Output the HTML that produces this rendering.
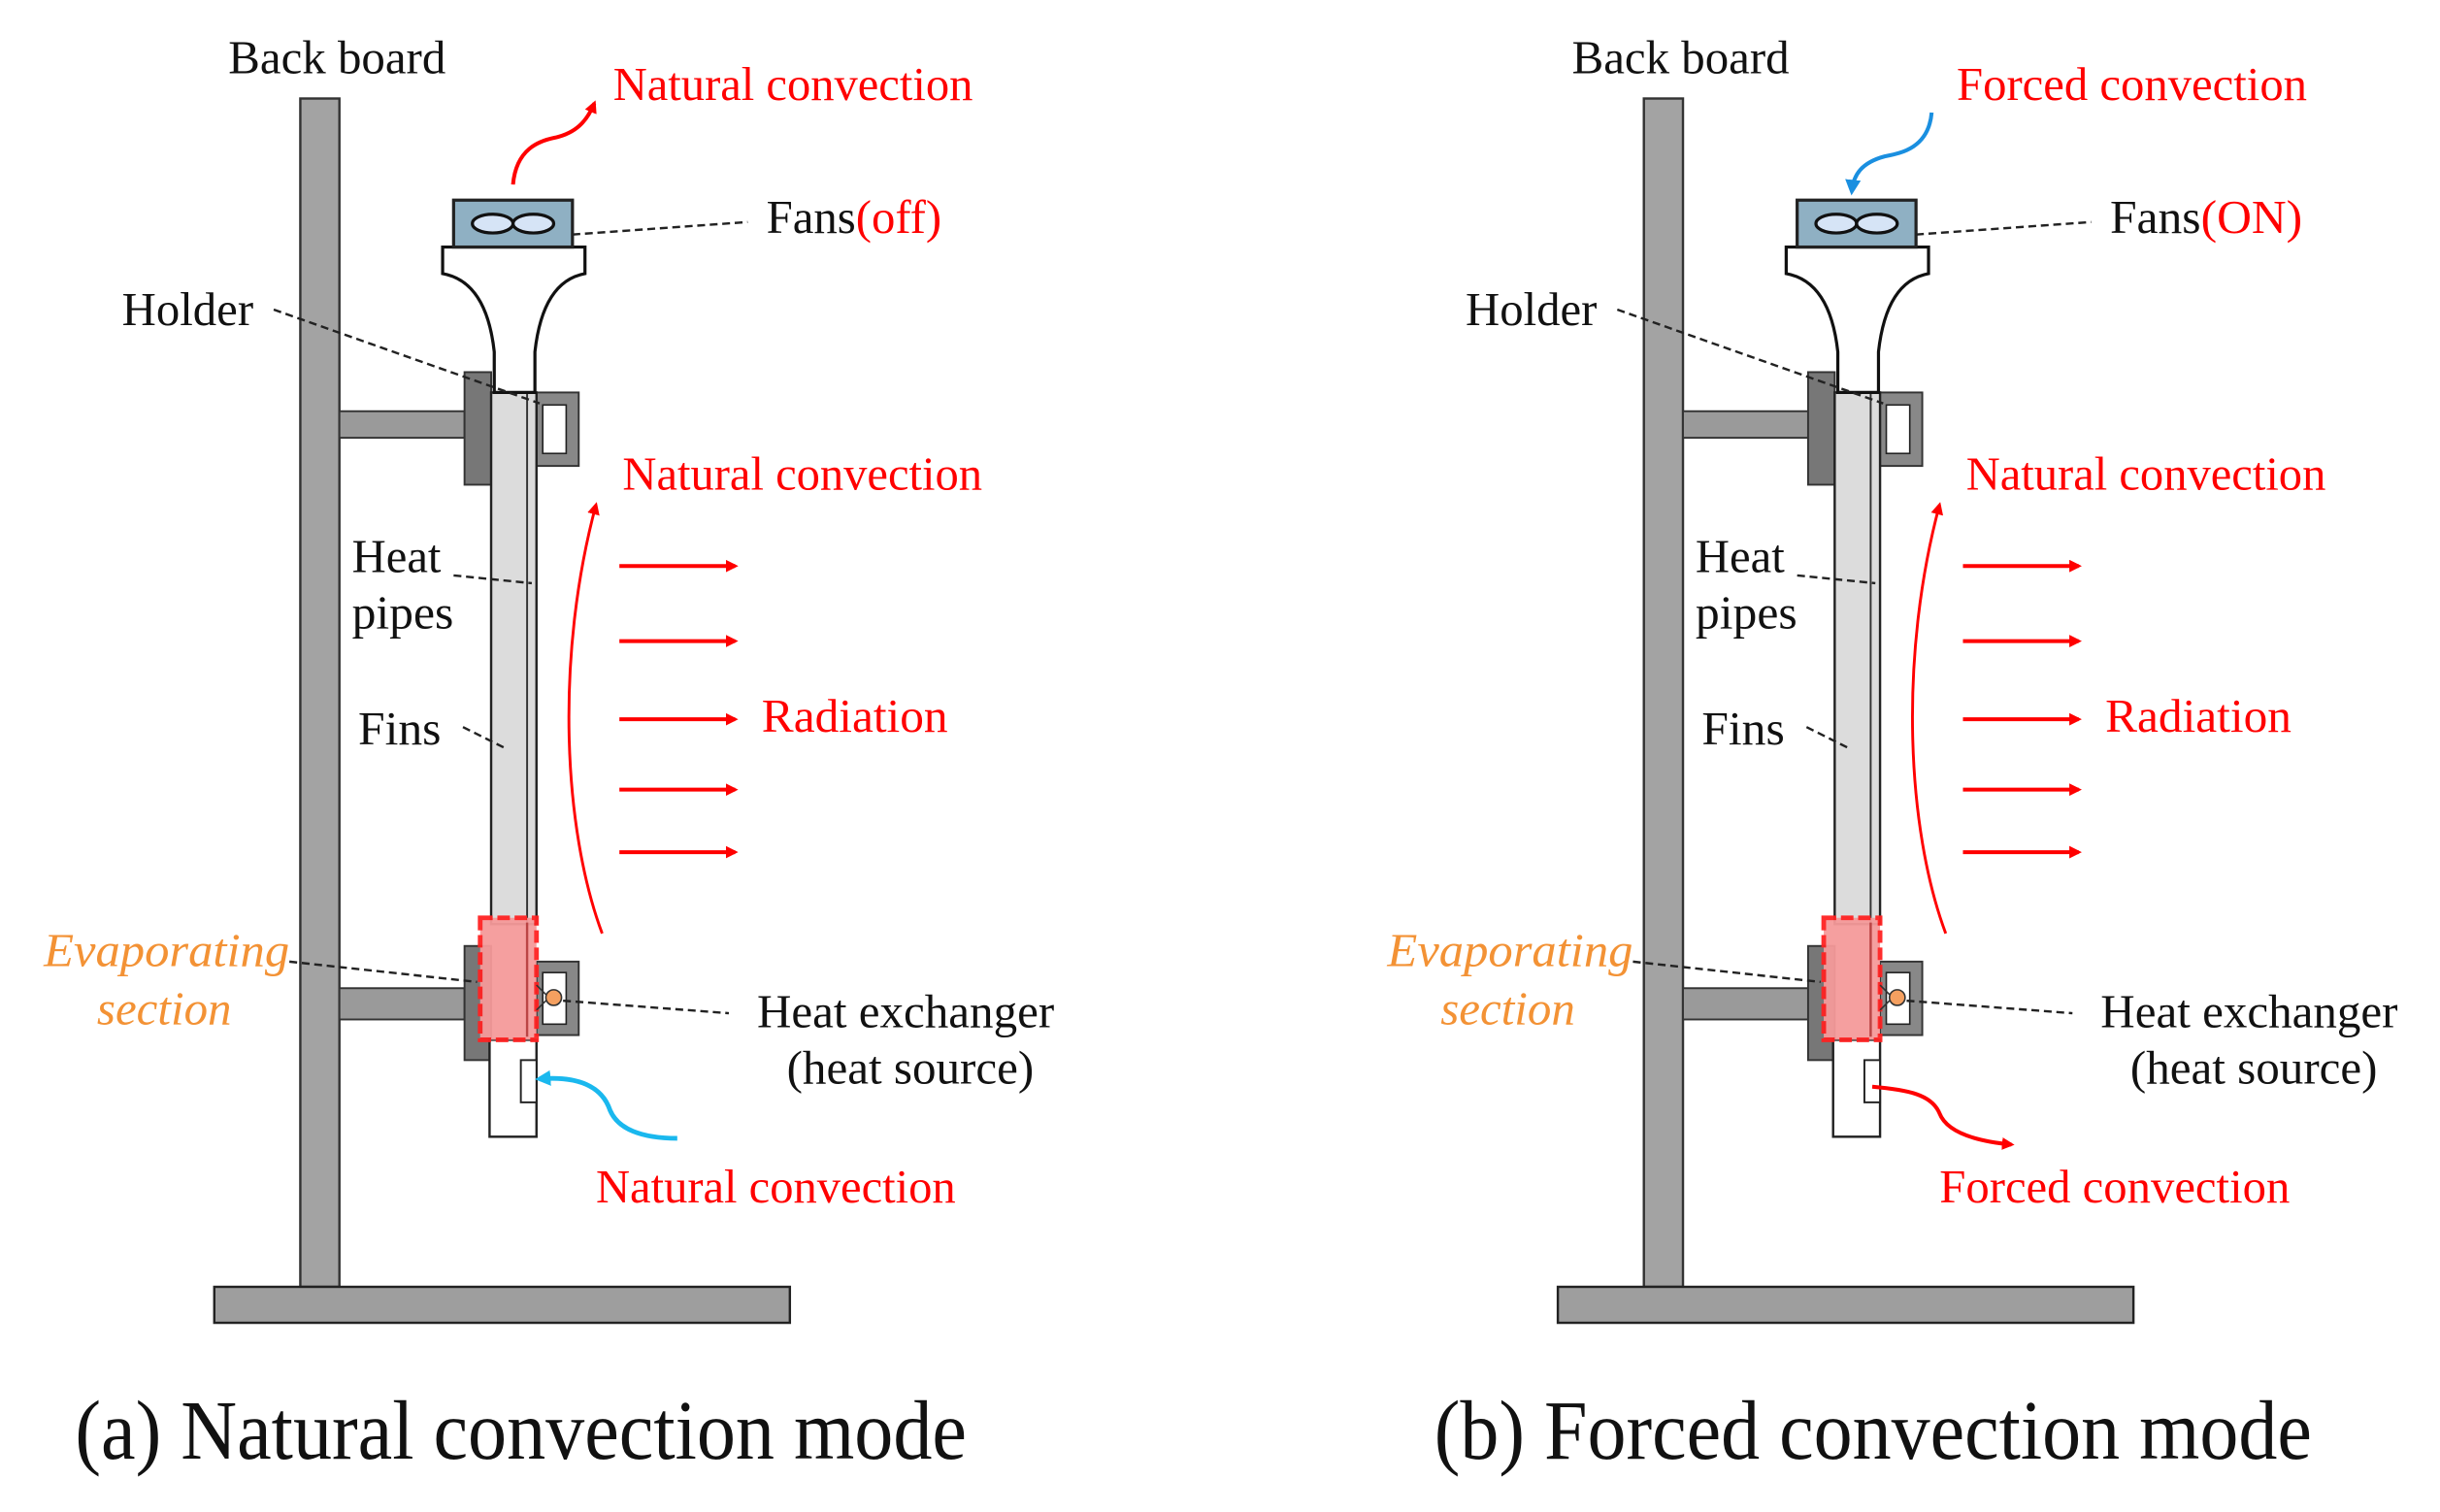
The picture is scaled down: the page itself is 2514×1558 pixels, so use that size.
<!DOCTYPE html>
<html><head><meta charset="utf-8"><style>
html,body{margin:0;padding:0;background:#fff;}
svg{display:block;}
text{font-family:"Liberation Serif",serif;}
</style></head><body>
<svg width="2514" height="1558" viewBox="0 0 1560 967" preserveAspectRatio="none" xmlns="http://www.w3.org/2000/svg">
<defs>
<marker id="ar" markerWidth="8" markerHeight="8" refX="6" refY="4" orient="auto" markerUnits="userSpaceOnUse"><path d="M0,0 L8,4 L0,8 Z" fill="#f00"/></marker>
<marker id="ab" markerWidth="10" markerHeight="10" refX="7" refY="5" orient="auto" markerUnits="userSpaceOnUse"><path d="M0,0 L10,5 L0,10 Z" fill="#1a8fe0"/></marker>
<marker id="ac" markerWidth="10" markerHeight="10" refX="7" refY="5" orient="auto" markerUnits="userSpaceOnUse"><path d="M0,0 L10,5 L0,10 Z" fill="#1ab8ee"/></marker>
<g id="app">
  <rect x="192" y="63" width="25" height="760" fill="#a3a3a3" stroke="#333" stroke-width="1.5"/>
  <rect x="137" y="823" width="368" height="23" fill="#9e9e9e" stroke="#222" stroke-width="1.5"/>
  <rect x="217" y="263" width="80" height="17" fill="#9a9a9a" stroke="#333" stroke-width="1.2"/>
  <rect x="297" y="238" width="17" height="72" fill="#777" stroke="#333" stroke-width="1.2"/>
  <rect x="343" y="251" width="27" height="47" fill="#888" stroke="#333" stroke-width="1.2"/>
  <rect x="347" y="259" width="15" height="31" fill="#fff" stroke="#222" stroke-width="1"/>
  <rect x="217" y="632" width="80" height="20" fill="#9a9a9a" stroke="#333" stroke-width="1.2"/>
  <rect x="297" y="605" width="17" height="73" fill="#777" stroke="#333" stroke-width="1.2"/>
  <rect x="343" y="615" width="27" height="47" fill="#888" stroke="#333" stroke-width="1.2"/>
  <rect x="347" y="622" width="15" height="33" fill="#fff" stroke="#222" stroke-width="1"/>
  <rect x="314" y="251" width="29" height="340" fill="#dcdcdc" stroke="#222" stroke-width="1.5"/>
  <line x1="337" y1="251" x2="337" y2="591" stroke="#333" stroke-width="1.2"/>
  <rect x="313" y="665" width="30" height="62" fill="#fff" stroke="#222" stroke-width="1.5"/>
  <rect x="333" y="678" width="10" height="27" fill="#fff" stroke="#222" stroke-width="1.2"/>
  <rect x="307" y="587" width="36" height="78" fill="#f59a9a" stroke="#f22" stroke-width="3" stroke-dasharray="8,3" opacity="0.95"/>
  <line x1="337" y1="590" x2="337" y2="663" stroke="#b44" stroke-width="1.5"/>
  <circle cx="354" cy="638" r="5" fill="#f5a060" stroke="#333" stroke-width="1"/>
  <path d="M343,630 L349,636 M343,646 L349,640" stroke="#333" stroke-width="1"/>
  <path d="M283,158 L374,158 L374,175 Q347,180 342,225 L342,251 L316,251 L316,225 Q311,180 283,175 Z" fill="#fff" stroke="#111" stroke-width="2"/>
  <rect x="290" y="128" width="76" height="30" fill="#8fb0c3" stroke="#222" stroke-width="2"/>
  <ellipse cx="315" cy="143" rx="13" ry="6" fill="#d6e4f6" stroke="#111" stroke-width="2"/>
  <ellipse cx="341" cy="143" rx="13" ry="6" fill="#d6e4f6" stroke="#111" stroke-width="2"/>
  <g stroke="#f00" stroke-width="2.5" marker-end="url(#ar)">
    <line x1="396" y1="362" x2="470" y2="362"/>
    <line x1="396" y1="410" x2="470" y2="410"/>
    <line x1="396" y1="460" x2="470" y2="460"/>
    <line x1="396" y1="505" x2="470" y2="505"/>
    <line x1="396" y1="545" x2="470" y2="545"/>
  </g>
  <path d="M385,597 C360,530 355,420 381,323" fill="none" stroke="#f00" stroke-width="1.8" marker-end="url(#ar)"/>
  <g stroke="#222" stroke-width="1.5" stroke-dasharray="5,3" fill="none">
    <line x1="366" y1="150" x2="478" y2="142"/>
    <line x1="175" y1="198" x2="345" y2="258"/>
    <line x1="290" y1="368" x2="340" y2="373"/>
    <line x1="296" y1="465" x2="322" y2="478"/>
    <line x1="185" y1="615" x2="305" y2="628"/>
    <line x1="360" y1="640" x2="466" y2="648"/>
  </g>
</g>
</defs>
<use href="#app"/>
<use href="#app" transform="translate(859,0)"/>

<path d="M328,118 C330,95 345,90 355,88 C368,85 375,78 380,66" fill="none" stroke="#f00" stroke-width="2.5" marker-end="url(#ar)"/>
<path d="M433,728 C410,728 395,722 390,710 C385,695 370,688 345,690" fill="none" stroke="#1ab8ee" stroke-width="3" marker-end="url(#ac)"/>
<path d="M1235,72 C1233,95 1215,98 1205,100 C1190,104 1185,112 1184,122" fill="none" stroke="#1a8fe0" stroke-width="2.5" marker-end="url(#ab)"/>
<path d="M1197,695 C1220,697 1235,700 1240,712 C1245,725 1265,730 1286,732" fill="none" stroke="#f00" stroke-width="2.5" marker-end="url(#ar)"/>

<g font-size="30" lengthAdjust="spacingAndGlyphs">
<text x="146" y="47" fill="#111" textLength="139" lengthAdjust="spacingAndGlyphs">Back board</text>
<text x="392" y="64" fill="#f00" textLength="230" lengthAdjust="spacingAndGlyphs">Natural convection</text>
<text x="490" y="149" fill="#111" textLength="112" lengthAdjust="spacingAndGlyphs">Fans<tspan fill="#f00">(off)</tspan></text>
<text x="78" y="208" fill="#111" textLength="84" lengthAdjust="spacingAndGlyphs">Holder</text>
<text x="398" y="313" fill="#f00" textLength="230" lengthAdjust="spacingAndGlyphs">Natural convection</text>
<text x="225" y="366" fill="#111" textLength="57" lengthAdjust="spacingAndGlyphs">Heat</text>
<text x="225" y="402" fill="#111" textLength="65" lengthAdjust="spacingAndGlyphs">pipes</text>
<text x="229" y="476" fill="#111" textLength="53" lengthAdjust="spacingAndGlyphs">Fins</text>
<text x="487" y="468" fill="#f00" textLength="119" lengthAdjust="spacingAndGlyphs">Radiation</text>
<text x="28" y="618" fill="#f39235" font-style="italic" textLength="157" lengthAdjust="spacingAndGlyphs">Evaporating</text>
<text x="62" y="655" fill="#f39235" font-style="italic" textLength="86" lengthAdjust="spacingAndGlyphs">section</text>
<text x="484" y="657" fill="#111" textLength="190" lengthAdjust="spacingAndGlyphs">Heat exchanger</text>
<text x="503" y="693" fill="#111" textLength="158" lengthAdjust="spacingAndGlyphs">(heat source)</text>
<text x="381" y="769" fill="#f00" textLength="230" lengthAdjust="spacingAndGlyphs">Natural convection</text>

<text x="1005" y="47" fill="#111" textLength="139" lengthAdjust="spacingAndGlyphs">Back board</text>
<text x="1251" y="64" fill="#f00" textLength="224" lengthAdjust="spacingAndGlyphs">Forced convection</text>
<text x="1349" y="149" fill="#111" textLength="123" lengthAdjust="spacingAndGlyphs">Fans<tspan fill="#f00">(ON)</tspan></text>
<text x="937" y="208" fill="#111" textLength="84" lengthAdjust="spacingAndGlyphs">Holder</text>
<text x="1257" y="313" fill="#f00" textLength="230" lengthAdjust="spacingAndGlyphs">Natural convection</text>
<text x="1084" y="366" fill="#111" textLength="57" lengthAdjust="spacingAndGlyphs">Heat</text>
<text x="1084" y="402" fill="#111" textLength="65" lengthAdjust="spacingAndGlyphs">pipes</text>
<text x="1088" y="476" fill="#111" textLength="53" lengthAdjust="spacingAndGlyphs">Fins</text>
<text x="1346" y="468" fill="#f00" textLength="119" lengthAdjust="spacingAndGlyphs">Radiation</text>
<text x="887" y="618" fill="#f39235" font-style="italic" textLength="157" lengthAdjust="spacingAndGlyphs">Evaporating</text>
<text x="921" y="655" fill="#f39235" font-style="italic" textLength="86" lengthAdjust="spacingAndGlyphs">section</text>
<text x="1343" y="657" fill="#111" textLength="190" lengthAdjust="spacingAndGlyphs">Heat exchanger</text>
<text x="1362" y="693" fill="#111" textLength="158" lengthAdjust="spacingAndGlyphs">(heat source)</text>
<text x="1240" y="769" fill="#f00" textLength="224" lengthAdjust="spacingAndGlyphs">Forced convection</text>
</g>
<text x="48" y="933" font-size="54" fill="#111" textLength="570" lengthAdjust="spacingAndGlyphs">(a) Natural convection mode</text>
<text x="917" y="933" font-size="54" fill="#111" textLength="561" lengthAdjust="spacingAndGlyphs">(b) Forced convection mode</text>
</svg>
</body></html>
